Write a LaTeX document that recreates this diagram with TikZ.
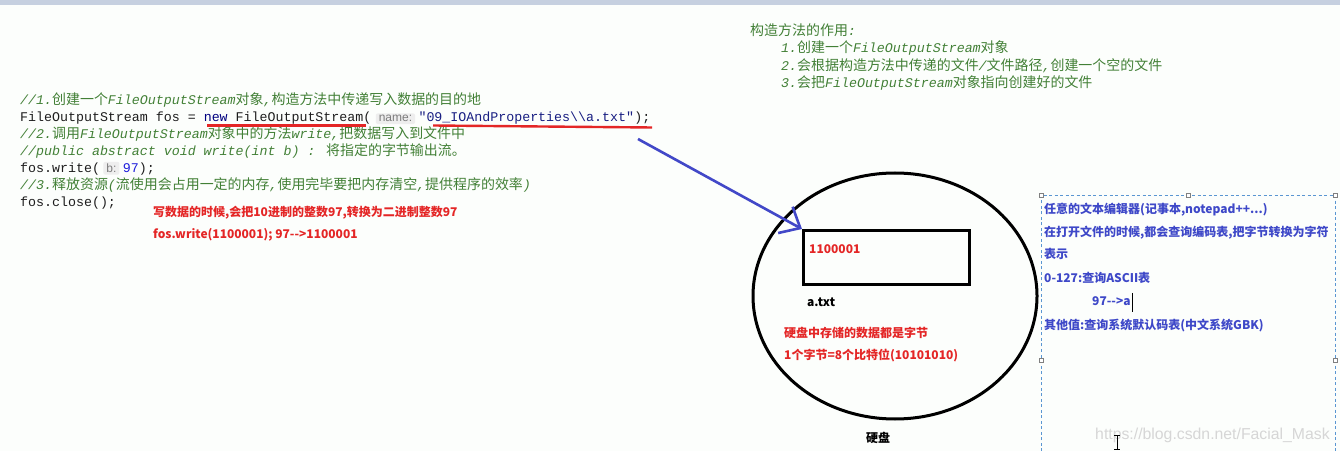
\documentclass[tikz,border=0pt]{standalone}
\usepackage{fontspec}
\usetikzlibrary{arrows.meta}
\setmainfont{Liberation Sans}
\newfontfamily\monof{Liberation Mono}
\newfontfamily\cjkc[Scale=1.05]{Noto Sans CJK SC}
\newfontfamily\cjkf{Noto Sans CJK SC}
\newfontfamily\hintf{Liberation Sans}
\newcommand\codefont{\monof\fontsize{13.3bp}{16bp}\selectfont}
\newcommand\cmtfont{\monof\itshape\fontsize{13.3bp}{16bp}\selectfont}
\newcommand\annfont{\cjkf\bfseries\fontsize{12bp}{14bp}\selectfont}
\newcommand\hintfont{\hintf\fontsize{12bp}{14bp}\selectfont}
\newcommand\ZH[1]{{\cjkc\upshape #1}}
\definecolor{bgc}{RGB}{252,254,252}
\definecolor{barc}{RGB}{198,208,224}
\definecolor{cmtgreen}{RGB}{66,128,54}
\definecolor{kw}{RGB}{0,0,128}
\definecolor{strc}{RGB}{24,30,130}
\definecolor{numc}{RGB}{30,30,220}
\definecolor{codeblack}{RGB}{30,30,30}
\definecolor{redc}{RGB}{228,38,38}
\definecolor{bluec}{RGB}{62,72,200}
\definecolor{arrowc}{RGB}{66,72,200}
\definecolor{dashc}{RGB}{90,150,210}
\definecolor{hintbg}{RGB}{238,238,238}
\definecolor{hinttx}{RGB}{125,125,125}
\definecolor{wmark}{RGB}{214,214,214}
\tikzset{
  code/.style={inner sep=0, anchor=base west, font=\codefont, text=codeblack},
  cmt/.style={inner sep=0, anchor=base west, font=\cmtfont, text=cmtgreen},
  hint/.style={anchor=base west, font=\hintfont, text=hinttx, fill=hintbg,
    rounded corners=2bp, inner xsep=3bp, inner ysep=2bp},
  ann/.style={inner sep=0, anchor=base west, font=\annfont, text=redc},
  annk/.style={inner sep=0, anchor=base west, font=\annfont, text=black},
  annb/.style={inner sep=0, anchor=base west, font=\annfont, text=bluec},
  uline/.style={draw=redc, line width=2.4bp},
  thick3/.style={draw=black, line width=3bp},
  handle/.style={draw=gray, fill=white, line width=0.6bp, minimum size=4bp, inner sep=0},
}
\begin{document}
\begin{tikzpicture}[x=1bp,y=-1bp]
\useasboundingbox (0,0) rectangle (1340,451);
\fill[bgc] (0,0) rectangle (1340,451);
\fill[barc] (0,0) rectangle (1340,5);

% code block
\node[cmt] (c1) at (20,105) {//1.\ZH{创建一个}FileOutputStream\ZH{对象},\ZH{构造方法中传递写入数据的目的地}};
\node[code] (c2a) at (20,121.9) {FileOutputStream fos = \textcolor{kw}{new} FileOutputStream(};
\node[hint] (h1) at ([xshift=4bp]c2a.base east) {name:};
\node[code, text=strc] (c2b) at ([xshift=3bp]h1.base east) {"09\_IOAndProperties\textbackslash\textbackslash a.txt"};
\node[code] (c2c) at (c2b.base east) {);};
\node[cmt] (c3) at (20,138.8) {//2.\ZH{调用}FileOutputStream\ZH{对象中的方法}write,\ZH{把数据写入到文件中}};
\node[cmt] (c4) at (20,155.7) {//public abstract void write(int b) : \ZH{将指定的字节输出流。}};
\node[code] (c5a) at (20,172.6) {fos.write(};
\node[hint] (h2) at ([xshift=3bp]c5a.base east) {b:};
\node[code] (c5b) at ([xshift=3bp]h2.base east) {\textcolor{numc}{97});};
\node[cmt] (c6) at (20,189.5) {//3.\ZH{释放资源}(\ZH{流使用会占用一定的内存},\ZH{使用完毕要把内存清空},\ZH{提供程序的效率})};
\node[code] (c7) at (20,206.4) {fos.close();};

% red underlines
\draw[uline] (207,125.5) -- (366,125.5);
\draw[uline] (433,125.5) -- (652,127.5);

% top right green notes
\node[cmt] (t0) at (750,35.5) {\ZH{构造方法的作用}:};
\node[cmt] (t1) at (781,53) {1.\ZH{创建一个}FileOutputStream\ZH{对象}};
\node[cmt] (t2) at (781,70.5) {2.\ZH{会根据构造方法中传递的文件}/\ZH{文件路径},\ZH{创建一个空的文件}};
\node[cmt] (t3) at (781,88) {3.\ZH{会把}FileOutputStream\ZH{对象指向创建好的文件}};

% red annotations
\node[ann] (r1) at (153,216.5) {写数据的时候,会把10进制的整数97,转换为二进制整数97};
\node[ann] (r2) at (153,238.5) {fos.write(1100001); 97-{}->1100001};

% hard disk
\draw[thick3] (895,296) ellipse [x radius=142, y radius=123];
\node[thick3, rectangle, minimum width=166bp, minimum height=54bp, inner sep=0, anchor=north west] (file) at (802,229) {};
\node[ann] (bits) at (809,253.5) {1100001};
\node[annk] (fname) at (807,306.5) {a.txt};
\node[ann] (d1) at (784,337.5) {硬盘中存储的数据都是字节};
\node[ann] (d2) at (784,359.5) {1个字节=8个比特位(10101010)};
\node[annk] (disk) at (866,442) {硬盘};

% arrow
\coordinate (astart) at (638,139);
\draw[arrowc, line width=2.6bp, -{Straight Barb[length=17bp,width=30bp]}] (astart) -- (file.north west);

% right dashed box
\draw[dashc, line width=0.9bp, dash pattern=on 3bp off 2.5bp] (1041,451) -- (1041,195) -- (1335,195) -- (1335,451);
\node[handle] (hd1) at (1041,195) {};
\node[handle] (hd2) at (1188,195) {};
\node[handle] (hd3) at (1335,195) {};
\node[handle] (hd4) at (1041,360) {};
\node[handle] (hd5) at (1335,360) {};

\node[annb] (b1) at (1044,213.5) {任意的文本编辑器(记事本,notepad++...)};
\node[annb] (b2) at (1044,236.5) {在打开文件的时候,都会查询编码表,把字节转换为字符};
\node[annb] (b3) at (1044,258.5) {表示};
\node[annb] (b4) at (1044,282.5) {0-127:查询ASCII表};
\node[annb] (b5) at (1092,305.5) {97-{}->a};
\draw[black, line width=1.2bp] ([xshift=1.5bp]b5.east |- 0,293) -- ([xshift=1.5bp]b5.east |- 0,312);
\node[annb] (b6) at (1044,329.5) {其他值:查询系统默认码表(中文系统GBK)};

% watermark and mouse cursor
\node[inner sep=0, anchor=base west, font=\hintf\fontsize{15.8bp}{18bp}\selectfont, text=wmark] (wm) at (1095,439) {https://blog.csdn.net/Facial\_Mask};
\draw[black, line width=0.9bp] (1114,435) -- (1120,435) (1117,435) -- (1117,449) (1114,449) -- (1120,449);
\end{tikzpicture}
\end{document}
